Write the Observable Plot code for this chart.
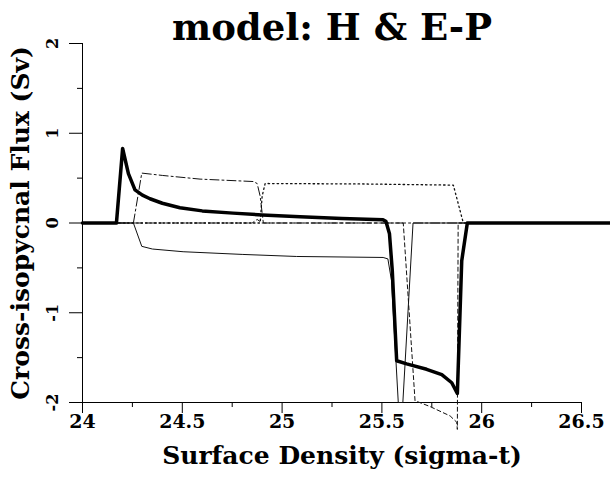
<!DOCTYPE html>
<html>
<head>
<meta charset="utf-8">
<script src="https://cdn.jsdelivr.net/npm/d3@7"></script>
<script src="https://cdn.jsdelivr.net/npm/@observablehq/plot@0.6"></script>
<style>
  html, body { margin: 0; padding: 0; background: #fff; }
</style>
</head>
<body>
<div id="chart"></div>
<script>
const title = "model: H & E-P";
const xTitle = "Surface Density (sigma-t)";
const yTitle = "Cross-isopycnal Flux (Sv)";

const xTicks = [24, 24.5, 25, 25.5, 26, 26.5];
const xMinor = [24.25, 24.75, 25.25, 25.75, 26.25];
const yTicks = [-2, -1, 0, 1, 2];
const yMinor = [-1.5, -0.5, 0.5, 1.5];
const xTickLabels = ["24", "24.5", "25", "25.5", "26", "26.5"];
const yTickLabels = ["-2", "-1", "0", "1", "2"];

// thick solid line
const totalFlux = [
  [24, 0], [24.17, 0], [24.201, 0.83], [24.23, 0.55], [24.263, 0.37], [24.3, 0.31],
  [24.338, 0.27], [24.4, 0.22], [24.488, 0.17], [24.6, 0.135], [24.754, 0.11],
  [24.9, 0.09], [25.09, 0.07], [25.3, 0.05], [25.506, 0.035], [25.52, 0.02],
  [25.538, -0.12], [25.552, -0.53], [25.574, -1.535], [25.624, -1.57],
  [25.724, -1.63], [25.8, -1.69], [25.85, -1.78], [25.878, -1.9], [25.9, -0.42],
  [25.928, 0], [26.64, 0]
];
// thin solid line
const thinSolid = [
  [24, 0], [24.255, 0], [24.297, -0.26], [24.35, -0.29], [24.504, -0.32],
  [24.8, -0.35], [25.073, -0.373], [25.506, -0.384], [25.53, -0.4],
  [25.548, -0.64], [25.582, -2.0], [25.605, -2.0], [25.656, 0], [26.64, 0]
];
// dash-dot line
const dashDot = [
  [24, 0], [24.255, 0], [24.297, 0.556], [24.4, 0.53], [24.589, 0.489],
  [24.856, 0.462], [24.875, 0.44], [24.89, 0.3], [24.906, 0], [26.64, 0]
];
// dotted line
const dotted = [
  [24, 0], [24.89, 0], [24.9, 0.3], [24.915, 0.44], [25.4, 0.435],
  [25.858, 0.422], [25.908, 0], [26.64, 0]
];
// dashed line
const dashed = [
  [24, 0], [24.85, 0], [24.875, 0.04], [24.9, 0], [25.607, 0], [25.666, -1.98],
  [25.741, -2.045], [25.842, -2.15], [25.875, -2.22], [25.878, -2.3],
  [25.882, 0], [26.64, 0]
];

const toRows = arr => arr.map(([x, y]) => ({x, y}));
const FONT = "DejaVu Serif";

const plot = Plot.plot({
  width: 610,
  height: 477,
  marginLeft: 82,
  marginRight: 29,
  marginTop: 43,
  marginBottom: 75,
  x: {domain: [24, 26.5], label: null},
  y: {domain: [-2, 2], label: null},
  style: {background: "#fff", color: "#000"},
  marks: [
    Plot.ruleY([-2], {stroke: "#000", strokeWidth: 1}),
    Plot.ruleX([24], {stroke: "#000", strokeWidth: 1}),
    Plot.axisX(xTicks, {tickSize: 11, tickFormat: () => "", label: null, strokeWidth: 1}),
    Plot.axisX(xMinor, {tickSize: 5, tickFormat: () => "", label: null, strokeWidth: 1}),
    Plot.axisY(yTicks, {tickSize: 13, tickFormat: () => "", label: null, strokeWidth: 1}),
    Plot.axisY(yMinor, {tickSize: 5, tickFormat: () => "", label: null, strokeWidth: 1}),
    Plot.text(xTicks, {x: d => d, y: -2, text: (d, i) => xTickLabels[i], dy: 19, lineAnchor: "middle",
      fontFamily: FONT, fontWeight: "bold", fontSize: 19, fill: "#000"}),
    Plot.text(yTicks, {x: 24, y: d => d, text: (d, i) => yTickLabels[i], dx: -30, rotate: -90,
      lineAnchor: "middle", textAnchor: "middle", fontFamily: FONT, fontWeight: "bold", fontSize: 16, fill: "#000"}),
    Plot.line(toRows(dashed), {x: "x", y: "y", stroke: "#111", strokeWidth: 1, strokeDasharray: "4,3"}),
    Plot.line(toRows(dotted), {x: "x", y: "y", stroke: "#111", strokeWidth: 1.3, strokeDasharray: "1.5,3"}),
    Plot.line(toRows(dashDot), {x: "x", y: "y", stroke: "#111", strokeWidth: 1, strokeDasharray: "9,3,2,3"}),
    Plot.line(toRows(thinSolid), {x: "x", y: "y", stroke: "#111", strokeWidth: 1}),
    Plot.line(toRows(totalFlux), {x: "x", y: "y", stroke: "#000", strokeWidth: 3.5, strokeLinejoin: "round"}),
    Plot.text([title], {frameAnchor: "top", text: d => d, lineAnchor: "bottom", dy: -4,
      fontFamily: FONT, fontWeight: "bold", fontSize: 37, fill: "#000"}),
    Plot.text([xTitle], {frameAnchor: "bottom", text: d => d, lineAnchor: "bottom", dx: 10, dy: 61,
      fontFamily: FONT, fontWeight: "bold", fontSize: 25, fill: "#000"}),
    Plot.text([yTitle], {frameAnchor: "left", text: d => d, lineAnchor: "middle", textAnchor: "middle", rotate: -90, dx: -62,
      fontFamily: FONT, fontWeight: "bold", fontSize: 25, fill: "#000"})
  ]
});
document.getElementById("chart").appendChild(plot);
</script>
</body>
</html>
